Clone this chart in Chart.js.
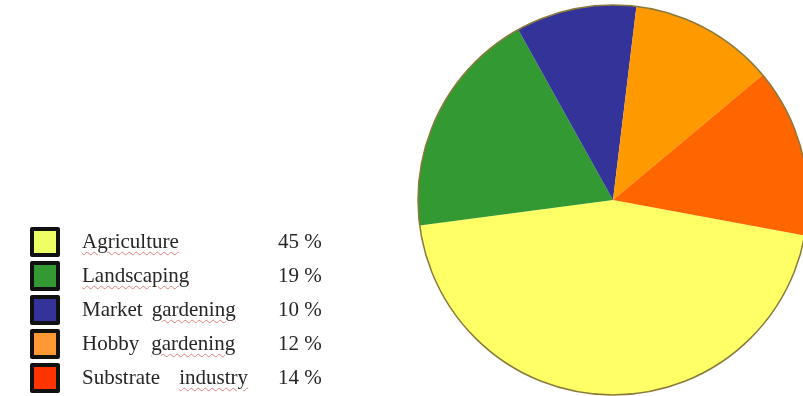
<!DOCTYPE html>
<html>
<head>
<meta charset="utf-8">
<script src="https://cdn.jsdelivr.net/npm/chart.js@4/dist/chart.umd.min.js"></script>
<style>
  html, body { margin:0; padding:0; width:803px; height:396px; overflow:hidden; background:#fff; }
  #wrap { position:absolute; left:0; top:0; width:820px; height:396px; }
  #legend { position:absolute; left:30px; top:227px; font-family:"Liberation Serif", "Times New Roman", serif; font-size:21px; color:#262626; }
  .row { position:relative; height:34px; }
  .sw { position:absolute; left:0; top:0; width:22px; height:22px; border:4px solid #111; border-radius:2px; }
  .lab { position:absolute; left:52px; top:2px; white-space:nowrap; }
  .pct { position:absolute; left:248px; top:2px; white-space:nowrap; }
  .sq { text-decoration: underline wavy #e08080 1px; text-underline-offset:3px; }
</style>
</head>
<body>
<div id="wrap"><canvas id="c" width="820" height="396"></canvas></div>
<div id="legend"></div>
<script>
const categories = ["Agriculture", "Landscaping", "Market gardening", "Hobby gardening", "Substrate industry"];
const values = [45, 19, 10, 12, 14];
const pctLabels = ["45 %", "19 %", "10 %", "12 %", "14 %"];
const sliceColors = ["#ffff66", "#339933", "#333399", "#ff9900", "#ff6600"];
const swatchColors = ["#eeff66", "#339933", "#333399", "#ff9933", "#ff3300"];
// words flagged with red squiggles in the source, and the justified word gaps
const labelHtml = [
  '<span class="sq">Agriculture</span>',
  '<span class="sq">Landscaping</span>',
  'Market<span class="sq" style="margin-left:9px">gardening</span>',
  'Hobby<span class="sq" style="margin-left:12px">gardening</span>',
  'Substrate<span class="sq" style="margin-left:19px">industry</span>'
];

const lg = document.getElementById('legend');
categories.forEach((c, i) => {
  const r = document.createElement('div');
  r.className = 'row';
  r.innerHTML = '<div class="sw" style="background:' + swatchColors[i] + '"></div>' +
    '<div class="lab" title="' + c + '">' + labelHtml[i] + '</div>' +
    '<div class="pct">' + pctLabels[i] + '</div>';
  lg.appendChild(r);
});

const outline = {
  id: 'outline',
  afterDatasetsDraw(chart) {
    const arc = chart.getDatasetMeta(0).data[0];
    if (!arc) return;
    const ctx = chart.ctx;
    ctx.save();
    ctx.beginPath();
    ctx.arc(arc.x, arc.y, arc.outerRadius, 0, Math.PI * 2);
    ctx.strokeStyle = '#8a7a3a';
    ctx.lineWidth = 1.5;
    ctx.stroke();
    ctx.restore();
  }
};

new Chart(document.getElementById('c'), {
  type: 'pie',
  data: {
    labels: categories,
    datasets: [{
      data: values,
      backgroundColor: sliceColors,
      borderWidth: 0
    }]
  },
  options: {
    responsive: false,
    animation: false,
    rotation: 100.5,
    layout: { padding: { left: 418, right: 12, top: 5, bottom: 1 } },
    plugins: { legend: { display: false }, tooltip: { enabled: false } }
  },
  plugins: [outline]
});
</script>
</body>
</html>
